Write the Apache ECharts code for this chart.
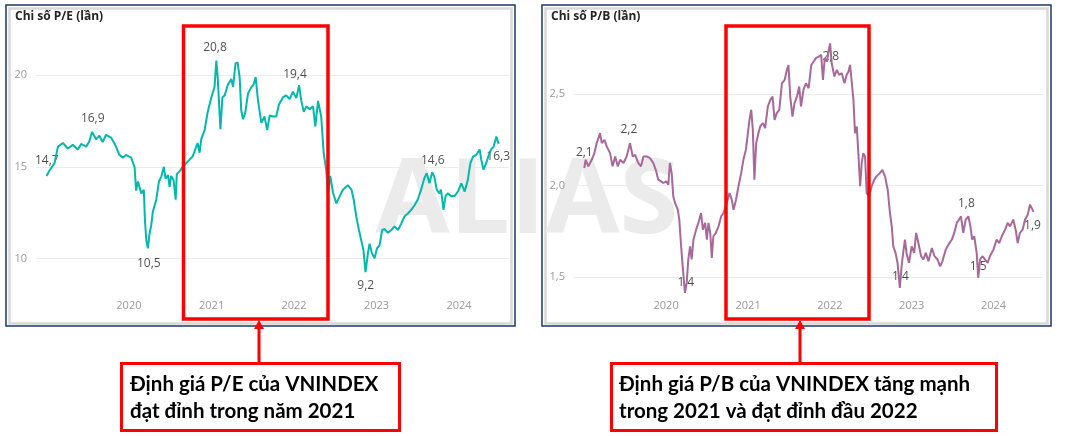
<!DOCTYPE html>
<html><head><meta charset="utf-8">
<script src="https://cdn.jsdelivr.net/npm/echarts@6/dist/echarts.min.js"></script>
<style>html,body{margin:0;padding:0;background:#fff}#c{width:1069px;height:436px}</style>
</head><body><div id="c"></div>
<script>
// ---------- data ----------
const peDates = ['2019-01-01','2019-01-15','2019-02-06','2019-02-21','2019-03-15','2019-04-06','2019-04-28','2019-05-20','2019-06-04','2019-06-26','2019-07-10','2019-07-22','2019-08-09','2019-08-23','2019-09-07','2019-09-22','2019-10-14','2019-10-28','2019-11-05','2019-11-20','2019-12-05','2019-12-19','2020-01-11','2020-01-18','2020-01-26','2020-02-02','2020-02-10','2020-02-17','2020-02-25','2020-03-07','2020-03-12','2020-03-18','2020-03-25','2020-04-02','2020-04-09','2020-04-16','2020-04-24','2020-05-01','2020-05-13','2020-05-23','2020-06-04','2020-06-11','2020-06-22','2020-06-29','2020-07-06','2020-07-17','2020-07-26','2020-07-31','2020-08-12','2020-08-24',
'2020-09-11','2020-10-09','2020-10-31','2020-11-09','2020-11-16','2020-12-01','2020-12-14','2020-12-31','2021-01-14','2021-01-22','2021-01-28','2021-02-09','2021-02-18','2021-02-28','2021-03-13','2021-03-29','2021-04-06','2021-04-17','2021-04-26','2021-05-05','2021-05-12','2021-05-20','2021-05-30','2021-06-11','2021-06-26','2021-07-06','2021-07-15','2021-07-25','2021-08-09','2021-08-23','2021-09-04','2021-09-15','2021-09-29','2021-10-14','2021-10-26','2021-11-13','2021-11-27','2021-12-12','2021-12-27','2022-01-11','2022-01-23','2022-02-02','2022-02-13','2022-02-24','2022-03-11','2022-03-26','2022-04-05','2022-04-17','2022-04-24','2022-05-01','2022-05-12','2022-05-23','2022-05-31','2022-06-10','2022-06-22','2022-07-07','2022-07-22','2022-08-05','2022-08-27','2022-09-12','2022-09-22','2022-10-03','2022-10-15','2022-10-25','2022-11-04','2022-11-13','2022-11-24','2022-12-01','2022-12-11','2022-12-23','2023-01-03','2023-01-14','2023-01-26','2023-02-06','2023-02-20','2023-03-07','2023-03-22','2023-04-06','2023-04-20','2023-05-05','2023-05-20','2023-06-03','2023-06-18','2023-07-02','2023-07-17','2023-08-01','2023-08-11','2023-08-23','2023-09-04','2023-09-14','2023-09-24','2023-10-06','2023-10-13','2023-10-24','2023-11-02','2023-11-12','2023-11-27','2023-12-12','2023-12-27','2024-01-11','2024-01-26','2024-02-09','2024-02-20','2024-03-03','2024-03-17','2024-04-01','2024-04-08','2024-04-18','2024-04-30','2024-05-12','2024-05-22','2024-06-02','2024-06-14','2024-06-24'];
const peValues = [14.5,14.8,15.2,16.1,16.3,16.0,16.2,15.95,16.25,16.1,16.4,16.9,16.5,16.7,16.35,16.75,16.6,16.3,16.1,15.65,15.5,15.65,15.5,15.6,15.0,13.7,14.2,14.2,13.55,13.75,12.1,11.0,10.55,11.4,11.8,12.55,12.45,13.2,14.2,14.45,15.0,14.35,14.55,13.9,14.5,14.25,13.2,14.6,14.75,14.95,
15.2,15.56,16.3,15.77,16.5,17.0,17.95,18.8,19.35,20.8,19.9,17.05,18.8,18.9,19.45,19.8,19.35,20.65,20.7,19.9,18.1,17.6,17.95,19.0,19.35,19.5,19.9,18.65,17.4,17.75,17.0,17.8,17.75,17.75,18.4,18.8,18.9,18.7,19.1,18.75,19.45,18.6,18.0,18.3,18.15,18.3,17.2,18.6,18.5,17.75,15.75,14.85,13.5,14.5,13.6,13.0,13.4,13.75,14.0,13.75,13.2,12.3,11.55,11.0,10.45,9.25,10.3,10.8,10.3,10.0,10.55,10.7,11.55,11.6,11.4,11.55,11.75,11.55,11.9,12.3,12.45,12.65,12.9,13.2,13.75,14.4,14.65,14.1,14.7,14.45,13.75,13.55,13.75,12.65,13.4,13.55,13.4,13.4,13.65,14.1,13.65,14.3,15.2,15.55,15.65,15.95,15.4,14.85,15.2,15.65,15.95,16.1,16.65,16.25];

const pbDates = ['2019-01-01','2019-01-07','2019-01-19','2019-01-26','2019-02-03','2019-02-15','2019-02-25','2019-03-12','2019-03-20','2019-04-01','2019-04-11','2019-04-26','2019-05-07','2019-05-19','2019-05-30','2019-06-10','2019-06-25','2019-07-09','2019-07-24','2019-08-05','2019-08-16','2019-08-30','2019-09-11','2019-09-22','2019-10-07','2019-10-21','2019-11-05','2019-11-16','2019-11-27','2019-12-09','2019-12-20',
'2020-01-01','2020-01-11','2020-01-18','2020-01-26','2020-02-02','2020-02-10','2020-02-22','2020-02-29','2020-03-07','2020-03-15','2020-03-25','2020-04-02','2020-04-09','2020-04-17','2020-04-24','2020-05-02','2020-05-14','2020-05-24','2020-06-05','2020-06-13','2020-06-23','2020-07-01','2020-07-08','2020-07-16','2020-07-23','2020-07-30','2020-08-10','2020-08-22','2020-09-03','2020-09-13','2020-09-28','2020-10-10','2020-10-20','2020-10-28','2020-11-08','2020-11-19','2020-12-01','2020-12-11','2020-12-22','2020-12-31',
'2021-01-07','2021-01-15','2021-01-22','2021-01-29','2021-02-06','2021-02-16','2021-02-24','2021-03-08','2021-03-18','2021-03-30','2021-04-10','2021-04-20','2021-04-29','2021-05-09','2021-05-20','2021-06-01','2021-06-13','2021-06-23','2021-06-30','2021-07-08','2021-07-18','2021-07-27','2021-08-07','2021-08-17','2021-08-25','2021-09-05','2021-09-16','2021-09-28','2021-10-10','2021-10-20','2021-10-31','2021-11-12','2021-11-23','2021-12-01','2021-12-09','2021-12-19','2021-12-27',
'2022-01-02','2022-01-09','2022-01-21','2022-02-01','2022-02-11','2022-02-23','2022-03-07','2022-03-17','2022-03-25','2022-04-01','2022-04-09','2022-04-16','2022-04-23','2022-05-01','2022-05-08','2022-05-16','2022-05-23','2022-05-30','2022-06-07','2022-06-14','2022-06-25','2022-07-06','2022-07-18','2022-07-28','2022-08-12','2022-08-23','2022-09-04','2022-09-16','2022-09-26','2022-10-04','2022-10-11','2022-10-21','2022-10-30','2022-11-09','2022-11-17','2022-11-24','2022-12-02','2022-12-09','2022-12-20',
'2023-01-01','2023-01-12','2023-01-21','2023-01-31','2023-02-12','2023-02-22','2023-03-05','2023-03-17','2023-04-01','2023-04-13','2023-04-26','2023-05-08','2023-05-18','2023-06-02','2023-06-14','2023-06-29','2023-07-10','2023-07-21','2023-07-31','2023-08-09','2023-08-19','2023-08-30','2023-09-11','2023-09-20','2023-09-28','2023-10-07','2023-10-18','2023-10-25','2023-11-02','2023-11-12','2023-11-24','2023-12-06','2023-12-16',
'2024-01-01','2024-01-15','2024-01-27','2024-02-07','2024-02-22','2024-03-04','2024-03-15','2024-03-29','2024-04-09','2024-04-18','2024-04-28','2024-05-10','2024-05-21','2024-06-02','2024-06-12','2024-06-20','2024-06-28'];
const pbValues = [2.095,2.14,2.104,2.095,2.14,2.176,2.231,2.285,2.231,2.249,2.213,2.176,2.104,2.158,2.104,2.14,2.122,2.158,2.231,2.158,2.167,2.122,2.104,2.158,2.158,2.149,2.122,2.085,2.031,2.022,2.013,
2.022,2.004,2.122,2.067,1.94,1.904,1.867,1.813,1.685,1.558,1.413,1.467,1.595,1.667,1.595,1.704,1.758,1.795,1.849,1.758,1.795,1.704,1.795,1.74,1.604,1.722,1.74,1.776,1.831,1.849,1.904,1.958,1.922,1.867,1.922,1.995,2.067,2.14,2.195,2.285,
2.358,2.413,2.304,2.031,2.231,2.285,2.322,2.34,2.313,2.431,2.467,2.485,2.358,2.395,2.413,2.558,2.576,2.631,2.658,2.485,2.376,2.449,2.485,2.54,2.431,2.522,2.558,2.531,2.658,2.676,2.695,2.704,2.713,2.576,2.695,2.676,2.74,
2.776,2.667,2.595,2.631,2.604,2.613,2.558,2.604,2.622,2.658,2.558,2.467,2.285,2.322,2.176,1.995,2.122,2.176,2.158,1.958,1.94,1.995,2.031,2.049,2.067,2.085,2.049,1.976,1.849,1.776,1.667,1.631,1.576,1.44,1.558,1.631,1.704,1.631,1.576,
1.667,1.631,1.74,1.685,1.613,1.595,1.631,1.585,1.658,1.613,1.595,1.558,1.585,1.649,1.676,1.704,1.74,1.795,1.813,1.831,1.74,1.813,1.831,1.776,1.704,1.722,1.631,1.495,1.595,1.613,1.595,1.576,1.613,
1.649,1.704,1.685,1.722,1.758,1.795,1.776,1.813,1.758,1.685,1.74,1.758,1.813,1.84,1.895,1.885,1.855];

// annotated points (label values)
const peLabelDates  = ['2019-01-03','2019-07-25','2020-03-29','2021-01-16','2022-01-05','2022-11-14','2023-09-07','2024-06-22'];
const peLabelValues = [14.7, 16.9, 10.5, 20.8, 19.4, 9.2, 14.6, 16.3];
const pbLabelDates  = ['2019-01-01','2019-07-19','2020-03-29','2022-01-05','2022-11-12','2023-09-02','2023-10-25','2024-06-23'];
const pbLabelValues = [2.1, 2.2, 1.4, 2.8, 1.4, 1.8, 1.5, 1.9];

const yearLabels = [2020, 2021, 2022, 2023, 2024];
const peTitle = 'Chi số P/E (lần)';
const pbTitle = 'Chi số P/B (lần)';
const noteLeft  = ['Định giá P/E của VNINDEX', 'đạt đỉnh trong năm 2021'];
const noteRight = ['Định giá P/B của VNINDEX tăng mạnh', 'trong 2021 và đạt đỉnh đầu 2022'];
const watermark = 'ALIAS';

// label placement (pixel nudges, style only)
const peLabelDy = [-12, -13.5, 14, -13, -12, 13, -13.5, 13.5];
const pbLabelDy = [-14.7, -19.4, -12.8, 17.4, -18.8, -18.6, -10.5, 21.7];

// ---------- chart ----------
const TEAL = '#01B8AA', PURPLE = '#A66999', RED = '#FF0000', NAVY = '#1F3864';
const FONT = '"Open Sans", "Noto Sans", sans-serif';
const chart = echarts.init(document.getElementById('c'), null, {renderer: 'canvas'});

function xAxisFor(gridIndex) {
  return {
    type: 'time', gridIndex, z: 4,
    min: new Date(2018, 10, 16).getTime(), max: new Date(2024, 7, 9).getTime(),
    axisLine: {show: false}, axisTick: {show: false}, splitLine: {show: false},
    axisLabel: {
      color: '#9a9a9a', fontSize: 11, fontFamily: FONT, margin: 3,
      formatter: v => {
        const d = new Date(v);
        return (d.getMonth() === 0 && d.getDate() === 1 && yearLabels.indexOf(d.getFullYear()) >= 0) ? String(d.getFullYear()) : '';
      }
    }
  };
}
function yAxisFor(gridIndex, min, max, step, dec) {
  return {
    type: 'value', gridIndex, min, max, splitNumber: 3, z: 4,
    axisLine: {show: false}, axisTick: {show: false},
    splitLine: {show: true, showMinLine: false, showMaxLine: false, lineStyle: {color: '#ececec', width: 1}},
    axisLabel: {
      showMinLabel: false, showMaxLabel: false,
      color: '#9a9a9a', fontSize: 11, fontFamily: FONT, margin: 9,
      formatter: v => (Math.abs(v / step - Math.round(v / step)) < 1e-6) ? v.toFixed(dec).replace('.', ',') : ''
    }
  };
}
function labelSeries(idx, dates, values, dy, dec) {
  return {
    type: 'scatter', xAxisIndex: idx, yAxisIndex: idx, symbolSize: 0, z: 5, silent: true,
    data: dates.map((d, i) => ({
      value: [d, values[i]],
      label: {offset: [0, dy[i]]}
    })),
    label: {
      show: true, position: 'inside', color: '#1e1e1e', fontSize: 12, fontFamily: FONT,
      formatter: p => p.value[1].toFixed(dec).replace('.', ',')
    }
  };
}

const gfx = [];
[6, 542].forEach(x0 => {
  gfx.push({type: 'rect', z: 0, shape: {x: x0 + 3.5, y: 8.5, width: 502, height: 315}, style: {fill: 'none', stroke: '#d9d9d9', lineWidth: 2.5}});
  gfx.push({type: 'rect', z: 0, shape: {x: x0, y: 5, width: 509, height: 321}, style: {fill: 'none', stroke: NAVY, lineWidth: 1.5}});
});
gfx.push({type: 'text', z: 0, x: 527, y: 203, scaleX: 1.03,
  style: {text: watermark, x: 0, y: 0, font: 'bold 104px ' + FONT, fill: '#ebebeb', align: 'center', verticalAlign: 'middle'}});
gfx.push({type: 'text', z: 10, style: {text: peTitle, x: 15, y: 17, font: 'bold 12px ' + FONT, fill: '#252423', align: 'left', verticalAlign: 'middle'}});
gfx.push({type: 'text', z: 10, style: {text: pbTitle, x: 551, y: 17, font: 'bold 12px ' + FONT, fill: '#252423', align: 'left', verticalAlign: 'middle'}});
gfx.push({type: 'rect', z: 10, shape: {x: 183.5, y: 26, width: 144.5, height: 293}, style: {fill: 'none', stroke: RED, lineWidth: 3.5}});
gfx.push({type: 'rect', z: 10, shape: {x: 726, y: 26, width: 143, height: 293}, style: {fill: 'none', stroke: RED, lineWidth: 3.5}});
[[259, 363], [800, 363]].forEach(([ax, ay]) => {
  gfx.push({type: 'line', z: 10, shape: {x1: ax, y1: ay, x2: ax, y2: 327}, style: {stroke: RED, lineWidth: 3}});
  gfx.push({type: 'polygon', z: 10, shape: {points: [[ax, 320], [ax - 5, 329], [ax + 5, 329]]}, style: {fill: RED}});
});
gfx.push({type: 'rect', z: 10, shape: {x: 121.5, y: 363.5, width: 278, height: 67}, style: {fill: '#fff', stroke: RED, lineWidth: 3}});
gfx.push({type: 'rect', z: 10, shape: {x: 611.5, y: 363.5, width: 385, height: 67}, style: {fill: '#fff', stroke: RED, lineWidth: 3}});
const NOTE_FONT = 'bold 20.5px Lato, "Open Sans", sans-serif';
noteLeft.forEach((t, i) => gfx.push({type: 'text', z: 11, style: {text: t, x: 130, y: 384 + i * 27, font: NOTE_FONT, fill: '#000', align: 'left', verticalAlign: 'middle'}}));
noteRight.forEach((t, i) => gfx.push({type: 'text', z: 11, style: {text: t, x: 619, y: 384 + i * 27, font: NOTE_FONT, fill: '#000', align: 'left', verticalAlign: 'middle'}}));

chart.setOption({
  animation: false,
  backgroundColor: '#fff',
  grid: [
    {left: 36, top: 28, width: 473, height: 269},
    {left: 574, top: 28, width: 469, height: 269}
  ],
  xAxis: [xAxisFor(0), xAxisFor(1)],
  yAxis: [yAxisFor(0, 7.89, 22.58, 5, 0), yAxisFor(1, 1.39, 2.86, 0.5, 1)],
  series: [
    {type: 'line', xAxisIndex: 0, yAxisIndex: 0, showSymbol: false, symbol: 'none', z: 6,
      lineStyle: {color: TEAL, width: 2}, itemStyle: {color: TEAL},
      data: peDates.map((d, i) => [d, peValues[i]])},
    {type: 'line', xAxisIndex: 1, yAxisIndex: 1, showSymbol: false, symbol: 'none', z: 6,
      lineStyle: {color: PURPLE, width: 2}, itemStyle: {color: PURPLE},
      data: pbDates.map((d, i) => [d, pbValues[i]])},
    labelSeries(0, peLabelDates, peLabelValues, peLabelDy, 1),
    labelSeries(1, pbLabelDates, pbLabelValues, pbLabelDy, 1)
  ],
  graphic: gfx
});
</script>
</body></html>
